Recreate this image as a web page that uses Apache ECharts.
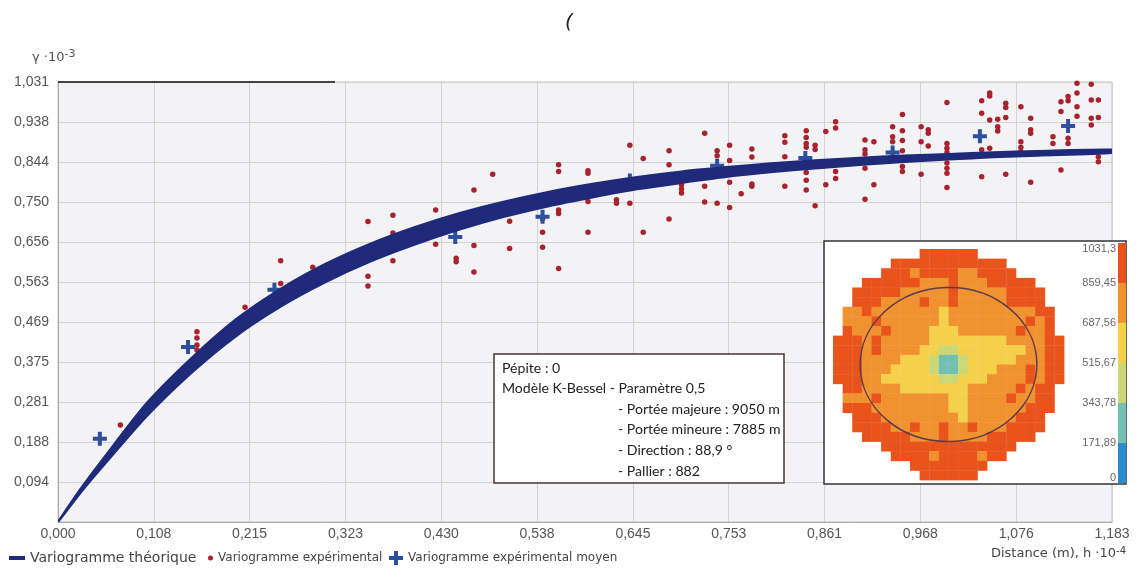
<!DOCTYPE html>
<html>
<head>
<meta charset="utf-8">
<script src="https://cdn.jsdelivr.net/npm/echarts@6/dist/echarts.min.js"></script>
<style>
html,body{margin:0;padding:0;background:#fff}
#chart{width:1138px;height:572px}
</style>
</head>
<body>
<div id="chart"></div>
<script>
// ---- axes ----
const xMax = 1.1833;
const yMax = 1.031;
const xTickLabels = ['0,000','0,108','0,215','0,323','0,430','0,538','0,645','0,753','0,861','0,968','1,076','1,183'];
const yTickLabels = ['','0,094','0,188','0,281','0,375','0,469','0,563','0,656','0,750','0,844','0,938','1,031'];

// ---- theoretical variogram envelope (all directions) ----
const bandX     = [0,0.025,0.05,0.1,0.15,0.2,0.25,0.3,0.35,0.4,0.45,0.5,0.55,0.6,0.65,0.7,0.75,0.8,0.85,0.9,0.95,1.0,1.05,1.1,1.183];
const bandUpper = [0,0.076,0.146,0.279,0.384,0.475,0.546,0.604,0.651,0.690,0.723,0.750,0.773,0.792,0.808,0.821,0.831,0.840,0.847,0.853,0.858,0.862,0.866,0.869,0.872];
const bandLower = [0,0.068,0.130,0.249,0.350,0.436,0.505,0.562,0.610,0.650,0.685,0.715,0.740,0.761,0.780,0.795,0.809,0.820,0.829,0.837,0.844,0.850,0.855,0.859,0.865];

// ---- experimental variogram: [distance, [gamma values]] ----
const expColumns = [
  [0.070,[0.227]],
  [0.156,[0.446,0.431,0.415,0.403]],
  [0.210,[0.503]],
  [0.250,[0.612,0.559]],
  [0.286,[0.597]],
  [0.348,[0.704,0.576,0.553]],
  [0.376,[0.719,0.677,0.612]],
  [0.424,[0.731,0.651]],
  [0.447,[0.618,0.610]],
  [0.467,[0.778,0.648,0.586]],
  [0.488,[0.815]],
  [0.507,[0.705,0.641]],
  [0.544,[0.710,0.679,0.644]],
  [0.562,[0.837,0.821,0.731,0.723,0.594]],
  [0.595,[0.823,0.817,0.751,0.679]],
  [0.627,[0.755,0.747]],
  [0.642,[0.883,0.747]],
  [0.657,[0.852,0.679]],
  [0.686,[0.870,0.837,0.710]],
  [0.700,[0.790,0.780,0.771]],
  [0.726,[0.911,0.787,0.750]],
  [0.740,[0.870,0.858,0.747]],
  [0.754,[0.883,0.847,0.796,0.737]],
  [0.767,[0.769]],
  [0.779,[0.874,0.855,0.792,0.787]],
  [0.816,[0.905,0.890,0.856,0.787]],
  [0.840,[0.917,0.901,0.887,0.878,0.819,0.801,0.778]],
  [0.850,[0.883,0.873,0.741]],
  [0.862,[0.915,0.790]],
  [0.873,[0.938,0.923,0.821,0.805]],
  [0.906,[0.895,0.872,0.862,0.829,0.756]],
  [0.916,[0.891,0.790]],
  [0.937,[0.926,0.903,0.891]],
  [0.948,[0.955,0.917,0.894,0.870,0.833,0.821]],
  [0.969,[0.926,0.891,0.815]],
  [0.977,[0.919,0.911,0.881]],
  [0.998,[0.983,0.887,0.876,0.866,0.841,0.829,0.817,0.784]],
  [1.037,[0.987,0.958,0.872,0.809]],
  [1.046,[1.005,0.998,0.942,0.876]],
  [1.055,[0.944,0.926,0.916]],
  [1.064,[0.981,0.971,0.948,0.815]],
  [1.081,[0.973,0.891,0.878,0.868]],
  [1.092,[0.946,0.919,0.911,0.796]],
  [1.117,[0.903,0.887]],
  [1.126,[0.985,0.962,0.825]],
  [1.134,[0.997,0.987,0.899,0.887]],
  [1.144,[1.028,1.005,0.973,0.951]],
  [1.160,[1.026,0.989,0.946,0.930]],
  [1.168,[0.989,0.948,0.856,0.844]]
];

// ---- mean experimental variogram per lag ----
const meanX = [0.047,0.146,0.243,0.345,0.446,0.544,0.642,0.740,0.839,0.937,1.035,1.134];
const meanY = [0.195,0.410,0.544,0.630,0.668,0.715,0.800,0.835,0.853,0.866,0.904,0.928];

// ---- variogram surface (classes 0..5, '.' = no value) ----
const mapRows = [
  '.........555555.........',
  '......555555555555......',
  '.....55545555445555.....',
  '...555555444544455555...',
  '..55555444445444445555..',
  '..55544445445444445555..',
  '.4454444444344444444455.',
  '.4445444444344444444545.',
  '.5444544443334444445445.',
  '555454444433333333444455',
  '555454444332233333334455',
  '555444433321123333344455',
  '555444333321123334445455',
  '555443333332233344445455',
  '.5544443333333444445455.',
  '.4445444444433444454455.',
  '.5554444444433444444555.',
  '..55544444444344444555..',
  '..55554454454454445555..',
  '...555554445444455555...',
  '.....55555555555555.....',
  '......555545555455......',
  '........55555555........',
  '.........555555.........'
];
const mapBreaks = [0, 171.89, 343.78, 515.67, 687.56, 859.45, 1031.3];
const mapColors = ['#2b8bd0', '#74bfb4', '#cbd874', '#f5d04a', '#ef922f', '#e8541c'];
const colorbarLabels = ['0', '171,89', '343,78', '515,67', '687,56', '859,45', '1031,3'];
const mapMaxLag = 11830;     // m
const rangeMajor = 9050;     // m
const rangeMinor = 7885;     // m
const directionDeg = 88.9;

const noteLines = [
  ['Pépite : 0', 0],
  ['Modèle K-Bessel - Paramètre 0,5', 0],
  ['- Portée majeure : 9050 m', 1],
  ['- Portée mineure : 7885 m', 1],
  ['- Direction : 88,9 °', 1],
  ['- Pallier : 882', 1]
];

// ---- build series data ----
const xStep = xMax / 11;
const yStep = yMax / 11;
const expData = [];
expColumns.forEach(([x, ys]) => ys.forEach(y => expData.push([x, y])));
const meanData = meanX.map((x, i) => [x, meanY[i]]);
const cellData = [];
mapRows.forEach((row, r) => {
  for (let c = 0; c < row.length; c++) {
    if (row[c] !== '.') cellData.push([c, r, +row[c]]);
  }
});
const barData = mapColors.map((col, k) => [k, mapBreaks[k], mapBreaks[k + 1]]);
const cellSize = 2 * mapMaxLag / mapRows.length;

const crossPath = 'path://M5,0H9V5H14V9H9V14H5V9H0V5H5Z';
const navy = '#1f2a7a';
const red = '#a8232d';
const blue = '#2c509e';
const tickFont = { fontFamily: 'Liberation Sans', fontSize: 14, color: '#555' };
const legendFont = { fontFamily: 'DejaVu Sans', fontSize: 12, color: '#444' };

const noteGraphics = [{
  type: 'rect', shape: { x: 494, y: 354, width: 290, height: 129 },
  style: { fill: '#fff', stroke: '#4a3535', lineWidth: 1.5 }, z: 1
}];
noteLines.forEach(([t, indent], i) => {
  noteGraphics.push({
    type: 'text', x: indent ? 618 : 502, y: 368 + i * 20.6, z: 2,
    style: { text: t, font: '14.1px Lato', fill: '#222', verticalAlign: 'middle' }
  });
});

const option = {
  animation: false,
  backgroundColor: '#fff',
  title: {
    text: '(', left: 'center', top: 8,
    textStyle: { fontFamily: 'DejaVu Sans', fontSize: 20, fontStyle: 'italic', fontWeight: 'normal', color: '#222' }
  },
  legend: [
    { left: 9, top: 551, padding: 0, itemWidth: 16, itemHeight: 14, itemGap: 4,
      textStyle: Object.assign({}, legendFont, { fontSize: 14 }),
      data: [{ name: 'Variogramme théorique', icon: 'path://M0,0H16V4H0Z' }], selectedMode: false },
    { left: 208, top: 552, padding: 0, itemWidth: 5, itemHeight: 5, textStyle: legendFont,
      data: [{ name: 'Variogramme expérimental', icon: 'circle' }], selectedMode: false },
    { left: 389, top: 551, padding: 0, itemWidth: 14, itemHeight: 14, textStyle: legendFont,
      data: [{ name: 'Variogramme expérimental moyen', icon: crossPath }], selectedMode: false }
  ],
  grid: [
    { left: 58, top: 82, width: 1054, height: 440, show: true, backgroundColor: '#f3f3f5', borderColor: '#c4c4c4', borderWidth: 1 },
    { left: 833, top: 249, width: 231, height: 231 },
    { left: 1118, top: 243, width: 8, height: 240 }
  ],
  xAxis: [
    { type: 'value', gridIndex: 0, min: 0, max: xMax, interval: xStep,
      axisLine: { show: true, lineStyle: { color: '#a8a8a8' } }, axisTick: { show: false },
      splitLine: { show: true, lineStyle: { color: '#d2d2d2' } },
      axisLabel: Object.assign({ margin: 5, formatter: v => xTickLabels[Math.round(v / xStep)] ?? '' }, tickFont) },
    { type: 'value', gridIndex: 1, min: -mapMaxLag, max: mapMaxLag, show: false },
    { type: 'value', gridIndex: 2, min: 0, max: 1, show: false }
  ],
  yAxis: [
    { type: 'value', gridIndex: 0, min: 0, max: yMax, interval: yStep,
      axisLine: { show: true, lineStyle: { color: '#a8a8a8' } }, axisTick: { show: false },
      splitLine: { show: true, lineStyle: { color: '#d2d2d2' } },
      axisLabel: Object.assign({ margin: 9, formatter: v => yTickLabels[Math.round(v / yStep)] ?? '' }, tickFont) },
    { type: 'value', gridIndex: 1, min: -mapMaxLag, max: mapMaxLag, show: false },
    { type: 'value', gridIndex: 2, min: 0, max: 1031.3, interval: 1031.3 / 6, z: 6,
      axisLine: { show: false }, axisTick: { show: false }, splitLine: { show: false },
      axisLabel: { margin: 2, fontFamily: 'Liberation Sans', fontSize: 11, color: '#666',
        verticalAlignMinLabel: 'bottom', verticalAlignMaxLabel: 'top',
        formatter: v => colorbarLabels[Math.round(v / (1031.3 / 6))] ?? '' } }
  ],
  graphic: [
    { type: 'line', shape: { x1: 58, y1: 82, x2: 335, y2: 82 }, style: { stroke: '#111', lineWidth: 1.5 }, z: 5 },
    { type: 'rect', shape: { x: 824, y: 241, width: 302, height: 243 },
      style: { fill: '#fff', stroke: '#333', lineWidth: 1.5 }, z: 1 },
    ...noteGraphics,
    { type: 'text', left: 32, top: 49, z: 2,
      style: { rich: { g: { fontFamily: 'DejaVu Sans', fontSize: 13, fill: '#555' },
                       s: { fontFamily: 'DejaVu Sans', fontSize: 11, fill: '#555', verticalAlign: 'top', padding: [0, 0, 7, 0] } },
               text: '{g|γ ·10}{s|-3}' } },
    { type: 'text', right: 12, top: 546, z: 2,
      style: { rich: { g: { fontFamily: 'DejaVu Sans', fontSize: 13, fill: '#444' },
                       s: { fontFamily: 'DejaVu Sans', fontSize: 10, fill: '#444', verticalAlign: 'top', padding: [0, 0, 6, 0] } },
               text: '{g|Distance (m), h ·10}{s|-4}' } }
  ],
  series: [
    { name: 'Variogramme expérimental', type: 'scatter', xAxisIndex: 0, yAxisIndex: 0,
      symbol: 'circle', symbolSize: 5.5, itemStyle: { color: red, opacity: 1 }, data: expData, z: 3 },
    { name: 'Variogramme expérimental moyen', type: 'scatter', xAxisIndex: 0, yAxisIndex: 0,
      symbol: crossPath, symbolSize: 14, itemStyle: { color: blue, opacity: 1 }, data: meanData, z: 3 },
    { name: 'Variogramme théorique', type: 'custom', xAxisIndex: 0, yAxisIndex: 0, z: 4, clip: true,
      itemStyle: { color: navy }, data: [[0, 0]],
      renderItem: (params, api) => {
        const top = bandX.map((x, i) => api.coord([x, bandUpper[i]]));
        const bottom = bandX.map((x, i) => api.coord([x, bandLower[i]])).reverse();
        return { type: 'polygon', shape: { points: top.concat(bottom), smooth: 0.25 },
                 style: { fill: navy, stroke: navy, lineWidth: 2.5, lineJoin: 'round' } };
      } },
    { name: 'surface', type: 'custom', xAxisIndex: 1, yAxisIndex: 1, z: 3, data: cellData,
      renderItem: (params, api) => {
        const c = api.value(0), r = api.value(1), k = api.value(2);
        const x0 = -mapMaxLag + c * cellSize, y0 = mapMaxLag - r * cellSize;
        const p0 = api.coord([x0, y0]), p1 = api.coord([x0 + cellSize, y0 - cellSize]);
        return { type: 'rect', shape: { x: p0[0], y: p0[1], width: p1[0] - p0[0] + 0.4, height: p1[1] - p0[1] + 0.4 },
                 style: { fill: mapColors[k] } };
      } },
    { name: 'anisotropie', type: 'custom', xAxisIndex: 1, yAxisIndex: 1, z: 4, data: [[0, 0]],
      renderItem: (params, api) => {
        const c = api.coord([0, 0]);
        const s = api.size([rangeMajor, rangeMinor]);
        return { type: 'ellipse', shape: { cx: c[0], cy: c[1], rx: s[0], ry: s[1] },
                 rotation: (90 - directionDeg) * Math.PI / 180, originX: c[0], originY: c[1],
                 style: { fill: 'none', stroke: '#5e3a4e', lineWidth: 1.5 } };
      } },
    { name: 'échelle', type: 'custom', xAxisIndex: 2, yAxisIndex: 2, z: 3, data: barData,
      renderItem: (params, api) => {
        const k = api.value(0);
        const p0 = api.coord([0, api.value(2)]), p1 = api.coord([1, api.value(1)]);
        return { type: 'rect', shape: { x: p0[0], y: p0[1], width: p1[0] - p0[0], height: p1[1] - p0[1] },
                 style: { fill: mapColors[k] } };
      } }
  ]
};

const chart = echarts.init(document.getElementById('chart'));
chart.setOption(option);
</script>
</body>
</html>
